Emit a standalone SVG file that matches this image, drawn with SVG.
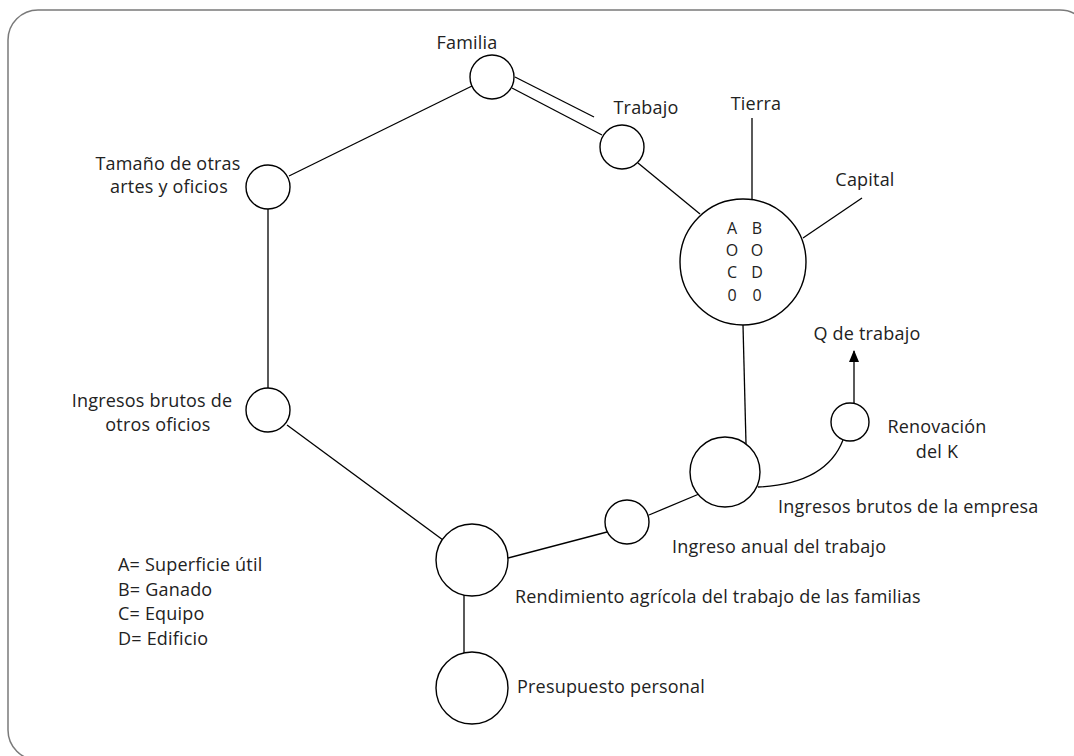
<svg xmlns="http://www.w3.org/2000/svg" width="1074" height="756" viewBox="0 0 1074 756">
<defs>
<style>
.n{fill:#fff;stroke:#000;stroke-width:1.4}
.c{fill:none;stroke:#000;stroke-width:1.3}
text{font-family:"Open Sans","Noto Sans",sans-serif;font-size:18px;letter-spacing:0.2px;fill:#222}
.m{text-anchor:middle}
.s{font-size:16px;letter-spacing:0;text-anchor:middle}
</style>
<marker id="ah" markerWidth="12" markerHeight="10" refX="11" refY="5" orient="auto" markerUnits="userSpaceOnUse" viewBox="0 0 12 10">
<path d="M0,0 L12,5 L0,10 Z" fill="#000"/>
</marker>
</defs>
<rect width="1074" height="756" fill="#fff"/>
<rect x="8" y="10" width="1082" height="750" rx="30" ry="30" fill="none" stroke="#7a7a7a" stroke-width="1.5"/>
<g id="connectors">
<line class="c" x1="515" y1="77" x2="594" y2="117"/>
<line class="c" x1="512" y1="88" x2="602" y2="135"/>
<line class="c" x1="472" y1="86" x2="289" y2="176"/>
<line class="c" x1="638" y1="163" x2="700" y2="214"/>
<line class="c" x1="752" y1="118" x2="752" y2="199"/>
<line class="c" x1="862" y1="198" x2="803" y2="238"/>
<line class="c" x1="268" y1="209" x2="268" y2="388"/>
<line class="c" x1="287" y1="425" x2="443" y2="540"/>
<line class="c" x1="743" y1="325" x2="746" y2="444"/>
<line class="c" x1="508" y1="558" x2="607" y2="532"/>
<line class="c" x1="649" y1="515" x2="699" y2="494"/>
<line class="c" x1="464" y1="595" x2="464" y2="653"/>
<path class="c" d="M758,487 Q826,484 843,440"/>
<line class="c" x1="854" y1="403" x2="854" y2="351" marker-end="url(#ah)"/>
</g>
<g id="familia"><circle class="n" cx="492" cy="77" r="22"/><text class="m" x="467" y="49">Familia</text></g>
<g id="trabajo"><circle class="n" cx="622" cy="147" r="22"/><text class="m" x="646" y="114">Trabajo</text></g>
<g id="tierra"><text class="m" x="756" y="110">Tierra</text></g>
<g id="capital"><text class="m" x="865" y="186">Capital</text></g>
<g id="empresa-factores"><circle class="n" cx="743" cy="262" r="63"/>
<text class="s" x="732" y="234">A</text><text class="s" x="757" y="234">B</text>
<text class="s" x="732" y="256">O</text><text class="s" x="757" y="256">O</text>
<text class="s" x="732" y="278">C</text><text class="s" x="757" y="278">D</text>
<text class="s" x="732" y="301">0</text><text class="s" x="757" y="301">0</text>
</g>
<g id="tamano"><circle class="n" cx="268" cy="187" r="22"/><text class="m" x="168" y="170">Tamaño de otras</text><text class="m" x="169" y="193">artes y oficios</text></g>
<g id="ingresos-otros"><circle class="n" cx="268" cy="410" r="22"/><text class="m" x="152" y="407">Ingresos brutos de</text><text class="m" x="158" y="431">otros oficios</text></g>
<g id="q-trabajo"><text class="m" x="867" y="340">Q de trabajo</text></g>
<g id="renovacion"><circle class="n" cx="850" cy="422" r="19"/><text class="m" x="937" y="433">Renovación</text><text class="m" x="937" y="458">del K</text></g>
<g id="ingresos-empresa"><circle class="n" cx="725" cy="472" r="35"/><text x="778" y="513">Ingresos brutos de la empresa</text></g>
<g id="ingreso-anual"><circle class="n" cx="627" cy="522" r="22"/><text x="672" y="553">Ingreso anual del trabajo</text></g>
<g id="rendimiento"><circle class="n" cx="472" cy="560" r="36"/><text x="515" y="603">Rendimiento agrícola del trabajo de las familias</text></g>
<g id="presupuesto"><circle class="n" cx="472" cy="688" r="36"/><text x="517" y="693">Presupuesto personal</text></g>
<g id="leyenda">
<text x="118" y="571">A= Superficie útil</text>
<text x="118" y="596">B= Ganado</text>
<text x="118" y="620">C= Equipo</text>
<text x="118" y="645">D= Edificio</text>
</g>
</svg>
